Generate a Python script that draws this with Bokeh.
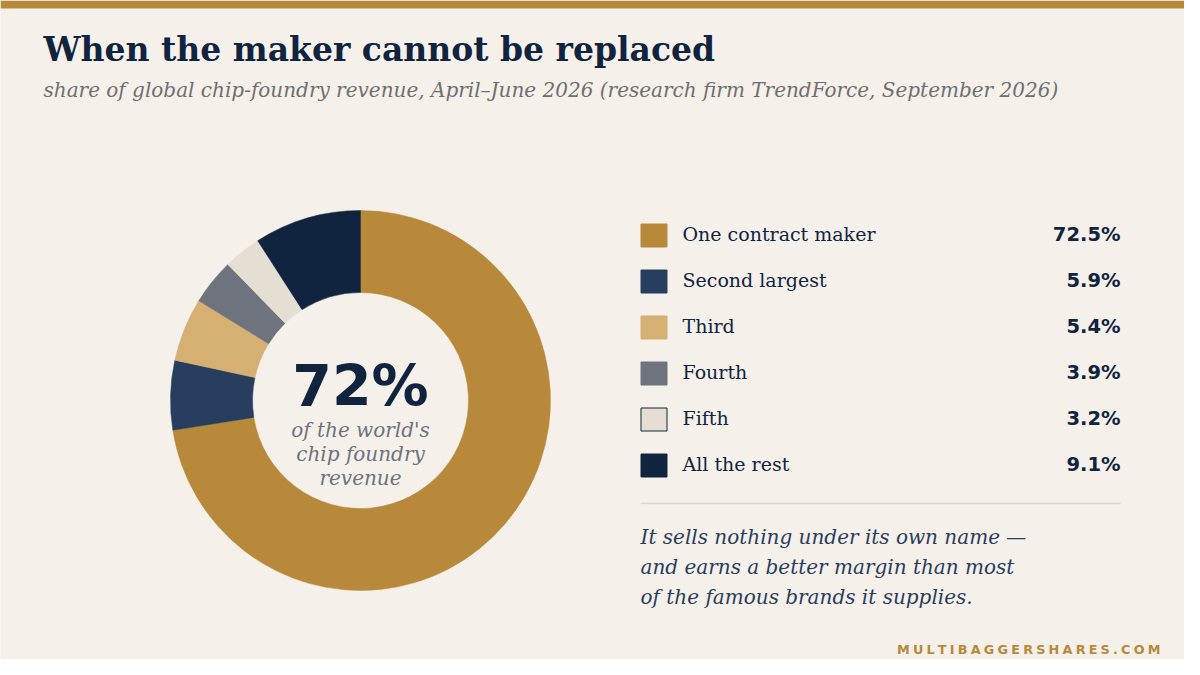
import math
from bokeh.plotting import figure
from bokeh.models import Range1d, ColumnDataSource
from bokeh.core.properties import value
from bokeh.embed import file_html
from bokeh.resources import INLINE

# ---- data ----
categories = ["One contract maker", "Second largest", "Third", "Fourth", "Fifth", "All the rest"]
shares = [72.5, 5.9, 5.4, 3.9, 3.2, 9.1]
colors = ["#B8893A", "#273E5E", "#D6AF72", "#6E737E", "#E5DED3", "#10243F"]
value_labels = [f"{v:.1f}%" for v in shares]

title = "When the maker cannot be replaced"
subtitle = "share of global chip-foundry revenue, April\u2013June 2026 (research firm TrendForce, September 2026)"
center_big = f"{int(shares[0])}%"
center_small = ["of the world's", "chip foundry", "revenue"]
note_lines = ["It sells nothing under its own name \u2014",
              "and earns a better margin than most",
              "of the famous brands it supplies."]
site = "MULTIBAGGERSHARES.COM"

BG = "#F5F0EA"
NAVY = "#10243F"
GOLD = "#B8893A"

W, H = 1184, 659
p = figure(width=W, height=H, output_backend="svg", toolbar_location=None,
           x_range=Range1d(0, W), y_range=Range1d(675 - H, 675),
           min_border=0, background_fill_color=BG, border_fill_color=BG,
           outline_line_color=None)
p.axis.visible = False
p.grid.visible = False


def Y(py):
    return 675 - py


def B(baseline, size):
    # anchor correction so that the text sits on the wanted baseline
    return Y(baseline - 0.4 * size)


SERIF = value("DejaVu Serif")
SANS = value("DejaVu Sans")

# top bar
p.quad(left=0, right=W, bottom=Y(8), top=Y(0), fill_color=GOLD, line_color=None)

# title / subtitle
p.text(x=[43], y=[B(62, 33)], text=[title], text_font=SERIF, text_font_style="bold",
       text_font_size="33px", text_color=NAVY, text_baseline="alphabetic")
p.text(x=[43], y=[B(97, 20)], text=[subtitle], text_font=SERIF, text_font_style="italic",
       text_font_size="20px", text_color="#6F6F6F", text_baseline="alphabetic")

# donut
cx, cy = 360, Y(400)
total = sum(shares)
starts, ends = [], []
acc = 0.0
for v in shares:
    starts.append(math.pi / 2 - 2 * math.pi * acc / total)
    acc += v
    ends.append(math.pi / 2 - 2 * math.pi * acc / total)
src = ColumnDataSource(dict(start=starts, end=ends, color=colors))
p.annular_wedge(x=cx, y=cy, inner_radius=108, outer_radius=190,
                start_angle="start", end_angle="end", direction="clock",
                fill_color="color", line_color="color", line_width=0.5, source=src)

p.text(x=[cx], y=[B(408, 57)], text=[center_big], text_font=SANS, text_font_style="bold",
       text_font_size="57px", text_color=NAVY, text_align="center", text_baseline="alphabetic")
p.text(x=[cx] * 3, y=[B(437 + 24 * i, 20) for i in range(3)], text=center_small,
       text_font=SERIF, text_font_style="italic", text_font_size="20px",
       text_color="#6E737E", text_align="center", text_baseline="alphabetic")

# legend
rows = [235 + 46 * i for i in range(len(categories))]
outline = ["#10243F" if c == "#E5DED3" else None for c in colors]
lsrc = ColumnDataSource(dict(x=[653.5] * len(rows), y=[Y(r) for r in rows],
                             color=colors, lc=[o if o else c for o, c in zip(outline, colors)],
                             lab_y=[B(r + 6, 19) for r in rows],
                             val_y=[B(r + 6.5, 19.5) for r in rows],
                             cat=categories, val=value_labels))
p.rect(x="x", y="y", width=26, height=23, fill_color="color", line_color="lc",
       line_width=1, source=lsrc)
p.text(x=682, y="lab_y", text="cat", text_font=SERIF, text_font_size="19px",
       text_color=NAVY, text_baseline="alphabetic", source=lsrc)
p.text(x=1120, y="val_y", text="val", text_font=SANS, text_font_style="bold",
       text_font_size="19.5px", text_color=NAVY, text_align="right",
       text_baseline="alphabetic", source=lsrc)

# separator
p.segment(x0=[640], y0=[Y(503)], x1=[1120], y1=[Y(503)], line_color="#DDD5CC", line_width=1.5)

# note
p.text(x=[640] * 3, y=[B(544 + 30 * i, 20) for i in range(3)], text=note_lines,
       text_font=SERIF, text_font_style="italic", text_font_size="20px",
       text_color="#2A3D5C", text_baseline="alphabetic")

# site
p.text(x=[1160], y=[B(654, 12.8)], text=["\u2005".join(site)], text_font=SANS,
       text_font_style="bold", text_font_size="12.8px", text_color=GOLD,
       text_align="right", text_baseline="alphabetic")

open("out.html", "w").write(file_html(p, INLINE))
